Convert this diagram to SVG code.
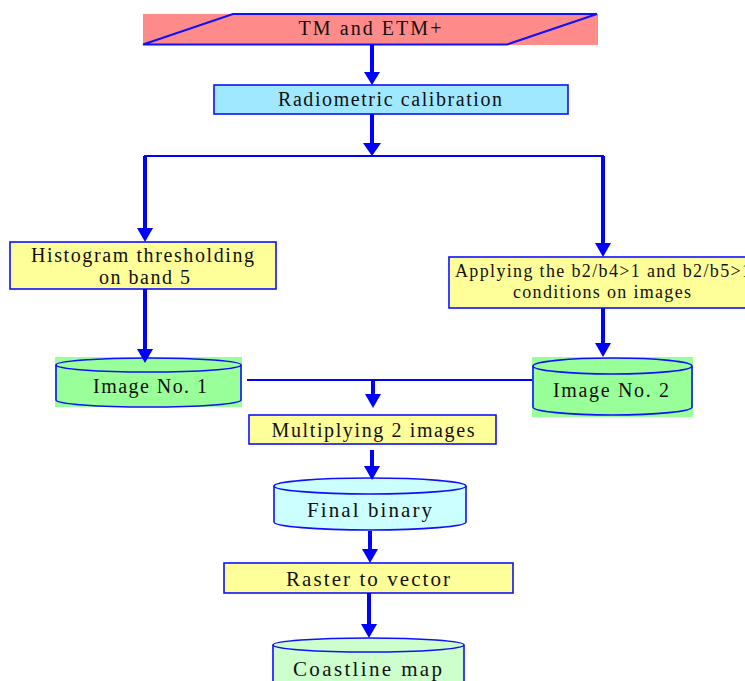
<svg xmlns="http://www.w3.org/2000/svg" width="745" height="681" viewBox="0 0 745 681">
<style>
text{font-family:"Liberation Serif","Times New Roman",serif;fill:#111;text-anchor:middle;}
.box{stroke:#1010ff;stroke-width:1.6;}
.yel{fill:#ffff99;}
.cyl{stroke:#1010ff;stroke-width:1.6;}
.thin{stroke:#0000ff;stroke-width:2;fill:none;}
.thick{stroke:#0000ff;stroke-width:4;fill:none;}
.head{fill:#0000ff;}
</style>
<rect width="745" height="681" fill="#fff"/>
<g id="tm">
<rect x="143" y="14" width="455" height="31" fill="#ff8a8a"/>
<polygon points="233,14 597,14 507,44.5 143,44.5" fill="none" stroke="#1010ff" stroke-width="2"/>
<text x="370" y="35" font-size="20" textLength="143" lengthAdjust="spacing">TM and ETM+</text>
</g>
<g id="radiometric">
<rect x="214" y="85" width="354" height="29" fill="#a0e8ff" class="box"/>
<text x="390" y="106" font-size="20" textLength="224" lengthAdjust="spacing">Radiometric calibration</text>
</g>
<g id="histogram">
<rect x="10" y="242" width="266" height="47" class="box yel"/>
<text x="142.5" y="262" font-size="20" textLength="223" lengthAdjust="spacing">Histogram thresholding</text>
<text x="144.5" y="284" font-size="20" textLength="91" lengthAdjust="spacing">on band 5</text>
</g>
<g id="applying">
<rect x="449" y="257" width="310" height="51" class="box yel"/>
<text x="603" y="277" font-size="18" textLength="296" lengthAdjust="spacing">Applying the b2/b4&gt;1 and b2/b5&gt;1</text>
<text x="602" y="298" font-size="18" textLength="178" lengthAdjust="spacing">conditions on images</text>
</g>
<g id="image1">
<rect x="55" y="357" width="187" height="50" fill="#99ff99"/>
<path d="M56,365 L56,400 A92.5,7 0 0 0 241,400 L241,365" fill="#99ff99" class="cyl"/>
<ellipse cx="148.5" cy="365" rx="92.5" ry="7" fill="#99ff99" class="cyl"/>
<text x="150" y="393" font-size="20" textLength="114" lengthAdjust="spacing">Image No. 1</text>
</g>
<g id="image2">
<rect x="532" y="357" width="161" height="60" fill="#99ff99"/>
<path d="M533,366 L533,407 A79.5,8 0 0 0 692,407 L692,366" fill="#99ff99" class="cyl"/>
<ellipse cx="612.5" cy="366" rx="79.5" ry="8" fill="#99ff99" class="cyl"/>
<text x="611" y="397" font-size="20" textLength="116" lengthAdjust="spacing">Image No. 2</text>
</g>
<g id="multiplying">
<rect x="249" y="415" width="247" height="29" class="box yel"/>
<text x="373" y="437" font-size="20" textLength="203" lengthAdjust="spacing">Multiplying 2 images</text>
</g>
<g id="finalbinary">
<path d="M274,486 L274,522 A96,8 0 0 0 466,522 L466,486" fill="#ccffff" class="cyl"/>
<ellipse cx="370" cy="486" rx="96" ry="8" fill="#ccffff" class="cyl"/>
<text x="369.5" y="517" font-size="21" textLength="125" lengthAdjust="spacing">Final binary</text>
</g>
<g id="raster">
<rect x="224" y="563" width="289" height="30" class="box yel"/>
<text x="368" y="586" font-size="21" textLength="164" lengthAdjust="spacing">Raster to vector</text>
</g>
<g id="coastline">
<path d="M273,645 L273,700 L464,700 L464,645" fill="#ccffcc" class="cyl"/>
<ellipse cx="368.5" cy="645" rx="95.5" ry="7" fill="#ccffcc" class="cyl"/>
<text x="367.5" y="676" font-size="21" textLength="149" lengthAdjust="spacing">Coastline map</text>
</g>
<g id="connectors">
<line x1="372" y1="45" x2="372" y2="73" class="thick"/>
<polygon points="364,72 380,72 372,85" class="head"/>
<line x1="372" y1="114" x2="372" y2="144" class="thick"/>
<polygon points="363,143 381,143 372,156" class="head"/>
<line x1="144" y1="156" x2="604" y2="156" class="thin"/>
<line x1="145" y1="156" x2="145" y2="229" class="thick"/>
<polygon points="137,228 153,228 145,242" class="head"/>
<line x1="603" y1="156" x2="603" y2="244" class="thick"/>
<polygon points="595,243 611,243 603,257" class="head"/>
<line x1="145" y1="289" x2="145" y2="350" class="thick"/>
<polygon points="137,349 153,349 145,363" class="head"/>
<line x1="603" y1="308" x2="603" y2="344" class="thick"/>
<polygon points="595,343 611,343 603,357" class="head"/>
<line x1="247" y1="380" x2="532" y2="380" class="thin"/>
<line x1="373" y1="380" x2="373" y2="395" class="thick"/>
<polygon points="365,394 381,394 373,408" class="head"/>
<line x1="372" y1="450" x2="372" y2="467" class="thick"/>
<polygon points="364,466 380,466 372,480" class="head"/>
<line x1="370" y1="531" x2="370" y2="550" class="thick"/>
<polygon points="362,549 378,549 370,563" class="head"/>
<line x1="369" y1="593" x2="369" y2="625" class="thick"/>
<polygon points="361,624 377,624 369,638" class="head"/>
</g>
</svg>
